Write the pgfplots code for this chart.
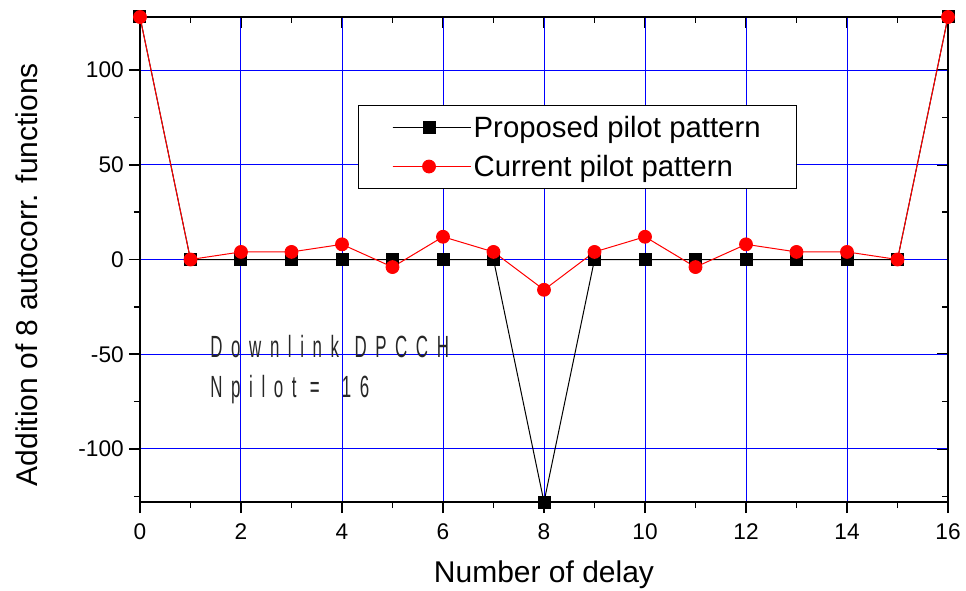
\documentclass[border=0pt]{standalone}
\usepackage{fontspec}
\setmainfont{Liberation Sans}
\newfontfamily\annfont[LetterSpace=51]{Liberation Sans}
\usepackage{pgfplots}
\pgfplotsset{compat=1.18}
\pgfplotsset{
  base/.style={
    at={(0,0)}, anchor=south west,
    scale only axis,
    width=606pt, height=363.75pt,
    xmin=0, xmax=16, ymin=-128, ymax=128,
    xtick={0,2,...,16}, minor xtick={1,3,...,15},
    ytick={-100,-50,0,50,100}, minor ytick={-125,-75,-25,25,75,125},
    major tick length=8.25pt, minor tick length=4.5pt,
    every tick/.style={black, line width=1.2pt},
    axis line style={line width=1.6pt},
  }
}
\begin{document}
\begin{tikzpicture}
\useasboundingbox (-105pt,-66pt) rectangle (619.5pt,376.5pt);
% mirrored ticks (top and right), pointing inward
\begin{axis}[base,
  xtick pos=top, ytick pos=right, tick align=inside,
  xticklabels={}, yticklabels={},
]
\end{axis}
\begin{axis}[base,
  xtick pos=bottom, ytick pos=left, tick align=outside,
  xmajorgrids, ymajorgrids,
  major grid style={blue, line width=0.75pt},
  /pgf/number format/assume math mode=true,
  ticklabel style={font=\fontsize{17pt}{19pt}\selectfont},
  xticklabel style={anchor=base, yshift=-19.5pt},
  yticklabel style={anchor=east, inner sep=0pt, xshift=-3.75pt},
  xlabel={Number of delay},
  ylabel={Addition of 8 autocorr. functions},
  label style={font=\fontsize{22.5pt}{26pt}\selectfont},
  xlabel style={at={(axis description cs:0.5,-0.165)}, anchor=base},
  ylabel style={at={(axis description cs:-0.1399,0.469)}, anchor=center},
  legend style={at={(axis description cs:0.2698,0.8186)}, anchor=north west,
    draw=black, line width=1pt,
    font=\fontsize{22pt}{26pt}\selectfont,
    inner xsep=25pt, inner ysep=7pt, row sep=9.5pt,
    nodes={inner ysep=1pt}},
  legend cell align=left,
  legend image code/.code={
    \path (0pt,0pt) -- (58.5pt,0pt);
    \draw[#1] (0pt,0pt) -- (54.75pt,0pt);
    \draw[#1, only marks] plot coordinates {(27.4pt,0pt)};},
  clip=false,
]
\addplot[black, line width=0.75pt, mark=square*, mark size=4.5pt, mark options={solid, fill=black}]
coordinates {(0,128)(1,0)(2,0)(3,0)(4,0)(5,0)(6,0)(7,0)(8,-128)(9,0)(10,0)(11,0)(12,0)(13,0)(14,0)(15,0)(16,128)};
\addlegendentry{Proposed pilot pattern}
\addplot[red, line width=0.75pt, mark=*, mark size=4.8pt, mark options={solid, fill=red, draw=red}]
coordinates {(0,128)(1,0)(2,4)(3,4)(4,8)(5,-4)(6,12)(7,4)(8,-16)(9,4)(10,12)(11,-4)(12,8)(13,4)(14,4)(15,0)(16,128)};
\addlegendentry{Current pilot pattern}
\node[anchor=base west, inner sep=0pt, text=black!85] at (axis cs:1.39,-51.9) {\scalebox{0.55}[1]{\annfont\fontsize{23pt}{26pt}\selectfont Downlink\hspace{3pt} DPCCH}};
\node[anchor=base west, inner sep=0pt, text=black!85] at (axis cs:1.39,-73) {\scalebox{0.55}[1]{\annfont\fontsize{23pt}{26pt}\selectfont Npilot =\hspace{12pt} 16}};
\end{axis}
\end{tikzpicture}
\end{document}
